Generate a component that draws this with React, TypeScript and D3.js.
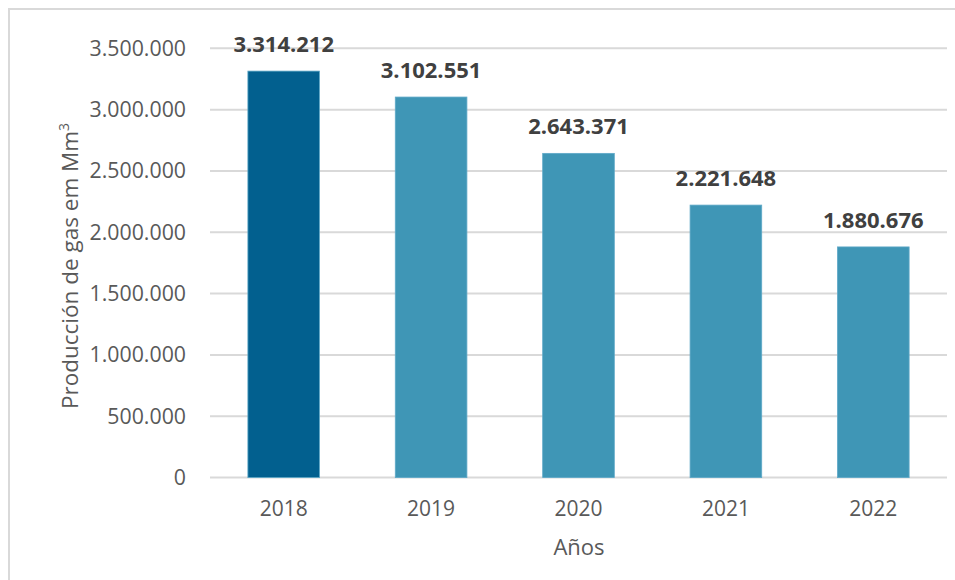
import React from "react";
import * as d3 from "d3";

const years = ["2018", "2019", "2020", "2021", "2022"];
const values = [3314212, 3102551, 2643371, 2221648, 1880676];
const barColors = ["#02608f", "#3f96b6", "#3f96b6", "#3f96b6", "#3f96b6"];
const yTicks = [0, 500000, 1000000, 1500000, 2000000, 2500000, 3000000, 3500000];
const yTitle = "Producción de gas em Mm";
const xTitle = "Años";

const fmt = (v: number) => d3.format(",")(v).replace(/,/g, ".");

export default function App() {
  const W = 955, H = 580;
  const left = 210, right = 947, top = 48.3, bottom = 477.6;
  const x = d3.scaleBand<string>().domain(years).range([left, right]).paddingInner(0.514).paddingOuter(0.257);
  const y = d3.scaleLinear().domain([0, 3500000]).range([bottom, top]);
  const font = "'Open Sans', sans-serif";
  return (
    <svg width={W} height={H} style={{ position: "absolute", left: 0, top: 0, background: "#fff" }}>
      <rect x={9} y={9} width={W + 20} height={H + 20} fill="#fff" stroke="#d9d9d9" strokeWidth={2} />
      {yTicks.map((t) => (
        <g key={t}>
          <line x1={left} x2={right} y1={y(t)} y2={y(t)} stroke="#d9d9d9" strokeWidth={2} />
          <text x={186} y={y(t)} dy="0.35em" textAnchor="end" fontFamily={font} fontSize={21.3} fill="#595959">
            {fmt(t)}
          </text>
        </g>
      ))}
      {years.map((yr, i) => {
        const bx = x(yr)!;
        const bw = x.bandwidth();
        return (
          <g key={yr}>
            <rect x={bx} y={y(values[i])} width={bw} height={y(0) - y(values[i])} fill={barColors[i]} stroke="#5fa9c8" strokeWidth={0.8} />
            <text x={bx + bw / 2} y={y(values[i]) - 19} textAnchor="middle" fontFamily={font} fontWeight={700} fontSize={22} fill="#404040">
              {fmt(values[i])}
            </text>
            <text x={bx + bw / 2} y={516} textAnchor="middle" fontFamily={font} fontSize={21} fill="#595959">
              {yr}
            </text>
          </g>
        );
      })}
      <text x={579} y={555} textAnchor="middle" fontFamily={font} fontSize={22} fill="#595959">
        {xTitle}
      </text>
      <text transform={`translate(78, ${(top + bottom) / 2 + 3}) rotate(-90)`} textAnchor="middle" fontFamily={font} fontSize={22.5} fill="#595959">
        {yTitle}
        <tspan dy={-9} fontSize={14}>3</tspan>
      </text>
    </svg>
  );
}
